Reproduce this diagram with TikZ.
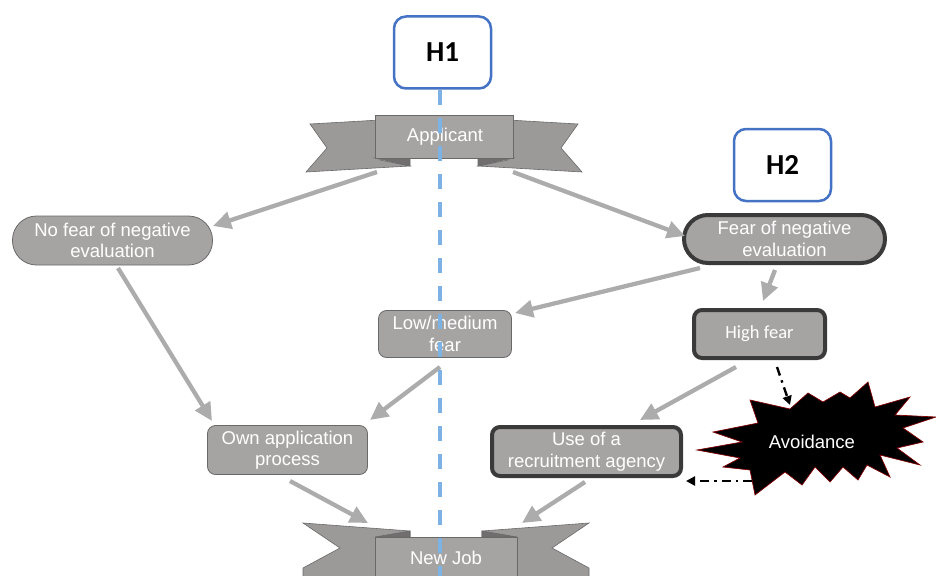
\documentclass[tikz,border=0pt]{standalone}
\usepackage{fontspec}
\setmainfont{Liberation Sans}
\newfontfamily\calib{Carlito}
\usetikzlibrary{arrows.meta}
\definecolor{nodegray}{RGB}{166,163,163}
\definecolor{tailgray}{RGB}{156,153,153}
\definecolor{foldgray}{RGB}{112,110,110}
\definecolor{thinborder}{RGB}{105,105,105}
\definecolor{darkborder}{RGB}{58,58,58}
\definecolor{arrowgray}{RGB}{172,172,172}
\definecolor{hblue}{RGB}{68,114,196}
\definecolor{vblue}{RGB}{125,178,228}
\definecolor{burstred}{RGB}{130,0,0}
\begin{document}
\begin{tikzpicture}[x=1pt,y=-1pt,
  lbl/.style={text=white, font=\fontsize{18.5}{21.5}\selectfont, align=center, inner sep=0pt},
  thinb/.style={draw=thinborder, line width=0.8pt},
  thickb/.style={draw=darkborder, line width=4pt},
  pillnode/.style={lbl, fill=nodegray, rounded corners=24pt},
  boxnode/.style={lbl, fill=nodegray, rounded corners=8pt},
  hbox/.style={draw=hblue, line width=2.5pt, rounded corners=12pt, fill=white,
     font=\calib\bfseries\fontsize{29}{32}\selectfont, minimum width=97pt, minimum height=72pt, inner sep=0pt},
  garrow/.style={draw=arrowgray, line width=4.3pt, -{Triangle[length=18pt,width=17pt]}},
  karrow/.style={draw=black, line width=2.4pt, dash pattern=on 9pt off 5pt on 2.5pt off 5pt,
     -{Triangle[length=9pt,width=9pt]}},
  vline/.style={draw=vblue, line width=3.5pt, dash pattern=on 15pt off 13pt},
  tail/.style={fill=tailgray, draw=thinborder, line width=0.6pt},
  fold/.style={fill=foldgray, draw=thinborder, line width=0.6pt},
  bannerrect/.style={fill=nodegray, draw=thinborder, line width=0.8pt}
]
\useasboundingbox (0,0) rectangle (936,575);
\clip (0,0) rectangle (936,575);

% ---------- Applicant banner ----------
\path[tail] (306,172) -- (327,148) -- (310,124) -- (380,120) -- (380,160) -- (410,166) -- cycle;
\path[tail] (582,172) -- (561,148) -- (578,124) -- (508,120) -- (508,160) -- (478,166) -- cycle;
\path[fold] (375,158) -- (410,158) -- (410,166) -- cycle;
\path[fold] (513,158) -- (478,158) -- (478,166) -- cycle;
\path[bannerrect] (375,115) rectangle (513,158);
\node[lbl] (app) at (445,137) {Applicant};

% ---------- New Job banner ----------
\path[tail] (303,523) -- (410,531) -- (410,580) -- (303,580) -- (303,568) -- (340,548) -- cycle;
\path[tail] (589,523) -- (482,531) -- (482,580) -- (589,580) -- (589,568) -- (552,548) -- cycle;
\path[fold] (375,537) -- (410,531) -- (410,537) -- cycle;
\path[fold] (517,537) -- (482,531) -- (482,537) -- cycle;
\path[bannerrect] (375,537) rectangle (517,590);
\node[lbl] (job) at (446,558) {New Job};

% ---------- nodes ----------
\node[pillnode, thinb, minimum width=200pt, minimum height=49pt] (nofear) at (112.5,240.5)
  {No fear of negative\\evaluation};
\node[pillnode, thickb, minimum width=201pt, minimum height=48pt] (fear) at (784.5,239)
  {Fear of negative\\evaluation};
\node[boxnode, thinb, minimum width=133pt, minimum height=47pt] (lowmed) at (445,334)
  {Low/medium\\fear};
\node[boxnode, thickb, minimum width=131pt, minimum height=48pt, font=\calib\fontsize{18.5}{21.5}\selectfont] (high) at (759.5,334)
  {High fear};
\node[boxnode, thinb, minimum width=160pt, minimum height=49pt] (own) at (287.5,450)
  {Own application\\process};
\node[boxnode, thickb, minimum width=189pt, minimum height=49pt] (use) at (586.5,451.5)
  {Use of a\\recruitment agency};

% ---------- Avoidance starburst ----------
\path[fill=black, draw=burstred, line width=0.7pt]
  (697,450) -- (742,442) -- (713,432) -- (758,423) -- (750,400) -- (790,409)
  -- (808,393) -- (823,402) -- (840,392) -- (850,398) -- (868,382) -- (875,407)
  -- (910,397) -- (895,415) -- (936,417) -- (903,428) -- (923,442) -- (897,448)
  -- (920,465) -- (880,455) -- (890,477) -- (867,465) -- (858,480) -- (843,467)
  -- (830,482) -- (815,467) -- (802,485) -- (785,472) -- (755,495) -- (750,470)
  -- (723,467) -- (740,458) -- cycle;
\node[lbl] (avoid) at (812,442) {Avoidance};

% ---------- connector end points ----------
\coordinate (a1s) at (377,172); \coordinate (a1e) at (213,226);
\coordinate (a2s) at (513,172); \coordinate (a2e) at (685,236);
\coordinate (a3s) at (700,268); \coordinate (a3e) at (515,313);
\coordinate (a4s) at (775,270); \coordinate (a4e) at (763,301);
\coordinate (a5s) at (118,268); \coordinate (a5e) at (212,421);
\coordinate (a6s) at (440,367); \coordinate (a6e) at (370,420);
\coordinate (a7s) at (736,367); \coordinate (a7e) at (640,420);
\coordinate (a8s) at (290,481); \coordinate (a8e) at (368,523);
\coordinate (a9s) at (585,482); \coordinate (a9e) at (522,523);
\coordinate (k1s) at (777,367); \coordinate (k1e) at (790,405);
\coordinate (k2s) at (752,481); \coordinate (k2e) at (686,481);

% ---------- connectors ----------
\draw[garrow] (a1s) -- (a1e);
\draw[garrow] (a2s) -- (a2e);
\draw[garrow] (a3s) -- (a3e);
\draw[garrow] (a4s) -- (a4e);
\draw[garrow] (a5s) -- (a5e);
\draw[garrow] (a6s) -- (a6e);
\draw[garrow] (a7s) -- (a7e);
\draw[garrow] (a8s) -- (a8e);
\draw[garrow] (a9s) -- (a9e);
\draw[karrow] (k1s) -- (k1e);
\draw[karrow] (k2s) -- (k2e);

% ---------- hypotheses ----------
\node[hbox] (h1) at (442.5,52.5) {H1};
\node[hbox] (h2) at (782.5,165) {H2};
\coordinate (vtop) at (440,90);
\coordinate (vbot) at (440,580);
\draw[vline] (vtop) -- (vbot);
\end{tikzpicture}
\end{document}
